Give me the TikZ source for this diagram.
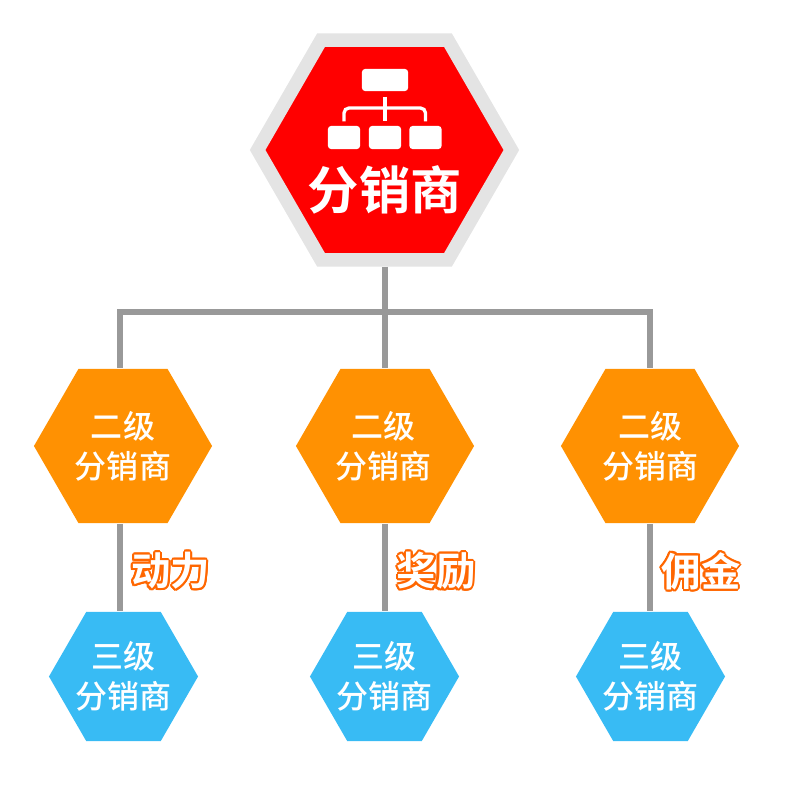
\documentclass[tikz,border=0pt]{standalone}
\usepackage{fontspec}
\setmainfont{Noto Sans CJK SC Medium}[BoldFont={Noto Sans CJK SC Bold}]
\usetikzlibrary{shapes.geometric}
\definecolor{hexred}{HTML}{FF0000}
\definecolor{hexrim}{HTML}{E4E4E4}
\definecolor{hexorange}{HTML}{FF9102}
\definecolor{hexblue}{HTML}{38BBF4}
\definecolor{linegray}{HTML}{999999}
\definecolor{labelorange}{HTML}{FF6600}
\newcommand{\rimtext}[1]{\bfseries\foreach \dx/\dy in {0.6/0,0.55/0.23,0.42/0.42,0.23/0.55,0/0.6,-0.23/0.55,-0.42/0.42,-0.55/0.23,-0.6/0,-0.55/-0.23,-0.42/-0.42,-0.23/-0.55,0/-0.6,0.23/-0.55,0.42/-0.42,0.55/-0.23}{\rlap{\kern\dx pt\raisebox{\dy pt}{\color{labelorange}#1}}}{\color{white}#1}}
\tikzset{
  hexnode/.style={regular polygon,regular polygon sides=6,inner sep=-0.3cm,text=white,align=center},
  second/.style={hexnode,fill=hexorange,minimum size=1.78cm,font=\fontsize{9.1}{11.4}\selectfont},
  third/.style={hexnode,fill=hexblue,minimum size=1.49cm,font=\fontsize{9.1}{11.4}\selectfont},
  iconbox/.style={fill=white,rounded corners=0.03cm,inner sep=0pt},
  bond/.style={draw=linegray,line width=0.06cm},
  prize/.style={inner sep=0pt,font=\fontsize{11.2}{13}\selectfont}
}

\begin{document}
\begin{tikzpicture}[x=0.01cm,y=-0.01cm]
  \path[use as bounding box] (0,0) rectangle (800,800);

  % Hexagono superior
  \node[hexnode,fill=hexred,draw=hexrim,line width=0.135cm,minimum size=2.536cm] (top) at (384.5,150) {};
  \node[text=white,inner sep=0pt,font=\fontsize{14.6}{16}\selectfont\bfseries] (toptext) at (385,190) {分销商};

  % Icono
  \node[iconbox,minimum width=0.46cm,minimum height=0.22cm] (iconroot) at (385,80) {};
  \node[iconbox,minimum width=0.32cm,minimum height=0.23cm] (iconleft) at (344,137.5) {};
  \node[iconbox,minimum width=0.32cm,minimum height=0.23cm] (iconmid) at (385,137.5) {};
  \node[iconbox,minimum width=0.32cm,minimum height=0.23cm] (iconright) at (425.5,137.5) {};
  \coordinate (iconbar) at (385,108);
  \draw[white,line width=0.045cm] ([yshift=-0.05cm]iconroot.south) -- ([yshift=0.04cm]iconmid.north);
  \draw[white,line width=0.033cm,rounded corners=0.05cm] ([yshift=0.04cm]iconleft.north) |- (iconbar) -| ([yshift=0.04cm]iconright.north);

  % Segundo nivel
  \node[second] (secondA) at (123,446) {二级\\分销商};
  \node[second] (secondB) at (385,446) {二级\kern0.04cm\\分销商\kern0.04cm};
  \node[second] (secondC) at (650,446) {二级\\分销商};

  % Tercer nivel
  \node[third] (thirdA) at (123.5,676.5) {三级\\分销商};
  \node[third] (thirdB) at (384.5,676.5) {三级\\分销商};
  \node[third] (thirdC) at (650.5,676.5) {三级\\分销商};

  % Lineas
  \coordinate (busA) at (120,312);
  \coordinate (busB) at (384.5,312);
  \coordinate (busC) at (650,312);
  \draw[bond] (top.south) -- (busB);
  \draw[bond] (secondA.north -| busA) -- (busA) -- (busC) -- (secondC.north -| busC);
  \draw[bond] (busB) -- (secondB.north -| busB);
  \draw[bond] (secondA.south -| busA) -- (thirdA.north -| busA);
  \draw[bond] (secondB.south -| busB) -- (thirdB.north -| busB);
  \draw[bond] (secondC.south -| busC) -- (thirdC.north -| busC);

  % Etiquetas
  \node[prize] (prizeA) at (170.5,571) {\rimtext{动力}};
  \node[prize] (prizeB) at (436,571) {\rimtext{奖励}};
  \node[prize] (prizeC) at (701,571) {\rimtext{佣金}};
\end{tikzpicture}
\end{document}
